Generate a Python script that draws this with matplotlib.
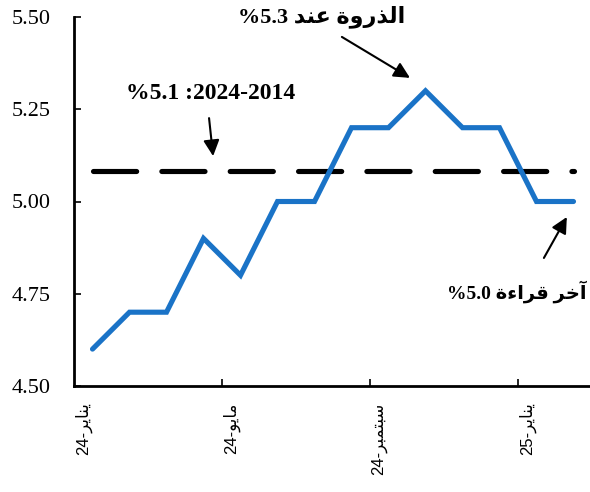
import numpy as np
import matplotlib
matplotlib.use('Agg')
import matplotlib.pyplot as plt

# Data
MONTHS = ['يناير-24', 'فبراير-24', 'مارس-24', 'أبريل-24', 'مايو-24', 'يونيو-24',
          'يوليو-24', 'أغسطس-24', 'سبتمبر-24', 'أكتوبر-24', 'نوفمبر-24',
          'ديسمبر-24', 'يناير-25', 'فبراير-25']
VALUES = [4.6, 4.7, 4.7, 4.9, 4.8, 5.0, 5.0, 5.2, 5.2, 5.3, 5.2, 5.2, 5.0, 5.0]
AVERAGE = 5.083
YTICKS = [4.50, 4.75, 5.00, 5.25, 5.50]

# matplotlib has no arabic shaping, so the labels are written
# in presentation forms, in visual (left to right) order
TICK_POS = [0, 4, 8, 12]
TICK_LABELS = ['24-\uFEAE\uFEF3\uFE8E\uFEE8\uFEF3',
               '24-\uFEEE\uFEF3\uFE8E\uFEE3',
               '24-\uFEAE\uFE92\uFEE4\uFE98\uFE92\uFEB3',
               '25-\uFEAE\uFEF3\uFE8E\uFEE8\uFEF3']
PEAK_TEXT = '%5.3 \uFEAA\uFEE8\uFECB \uFE93\uFEED\uFEAD\uFEAC\uFEDF\uFE8D'
AVG_TEXT = '%5.1 :2024-2014'
LAST_TEXT = '%5.0 \uFE93\uFE80\uFE8D\uFEAE\uFED7 \uFEAE\uFEA7\uFE81'

SERIF = ['Liberation Serif', 'DejaVu Sans']
SANS = ['Liberation Sans', 'DejaVu Sans']
BLUE = '#1A73C7'


def plotChart():
    fig = plt.figure(figsize=(5.9, 4.92), dpi=100)
    ax = fig.add_axes([74 / 590, 106 / 492, 518 / 590, 369 / 492])

    x = np.arange(len(VALUES))
    ax.plot(x, VALUES, color=BLUE, lw=3.7, solid_joinstyle='miter',
            solid_capstyle='round', zorder=3)
    ax.plot([x[0], x[-1]], [AVERAGE, AVERAGE], color='black', lw=3.7,
            dashes=(8.4, 4.9), dash_capstyle='round', zorder=2)

    ax.set_xlim(-0.5, len(VALUES) - 0.5)
    ax.set_ylim(4.5, 5.5)
    ax.set_yticks(YTICKS)
    ax.set_yticklabels(['%.2f' % v for v in YTICKS], family=SERIF, fontsize=16)
    ax.tick_params(axis='y', direction='in', length=5, width=1.2, pad=17)

    # tick marks between categories, labels on categories
    ax.set_xticks([3.5, 7.5, 11.5])
    ax.set_xticklabels([])
    ax.tick_params(axis='x', direction='in', length=5, width=1.2)
    for p, lab in zip(TICK_POS, TICK_LABELS):
        ax.text(p - 0.25, -0.045, lab, transform=ax.get_xaxis_transform(),
                rotation=90, ha='center', va='top', fontsize=12, family=SANS)

    for s in ['top', 'right']:
        ax.spines[s].set_visible(False)
    for s in ['left', 'bottom']:
        ax.spines[s].set_linewidth(2)

    arrow = dict(arrowstyle='-|>', color='black', lw=1.5, mutation_scale=24,
                 shrinkA=0, shrinkB=0)
    ax.annotate('', xy=(3.26, 5.123), xytext=(3.15, 5.226), arrowprops=arrow)
    ax.annotate('', xy=(8.58, 5.335), xytext=(6.74, 5.446), arrowprops=arrow)
    ax.annotate('', xy=(12.82, 4.958), xytext=(12.2, 4.847), arrowprops=arrow)

    ax.text(3.18, 5.294, AVG_TEXT, ha='center', va='center', fontsize=17,
            fontweight='bold', family=SERIF)
    ax.text(6.18, 5.50, PEAK_TEXT, ha='center', va='center', fontsize=16,
            fontweight='bold', family=SERIF, clip_on=False)
    ax.text(11.47, 4.755, LAST_TEXT, ha='center', va='center', fontsize=14,
            fontweight='bold', family=SERIF)

    fig.savefig('out.png', dpi=100)


if __name__ == '__main__':
    plotChart()
